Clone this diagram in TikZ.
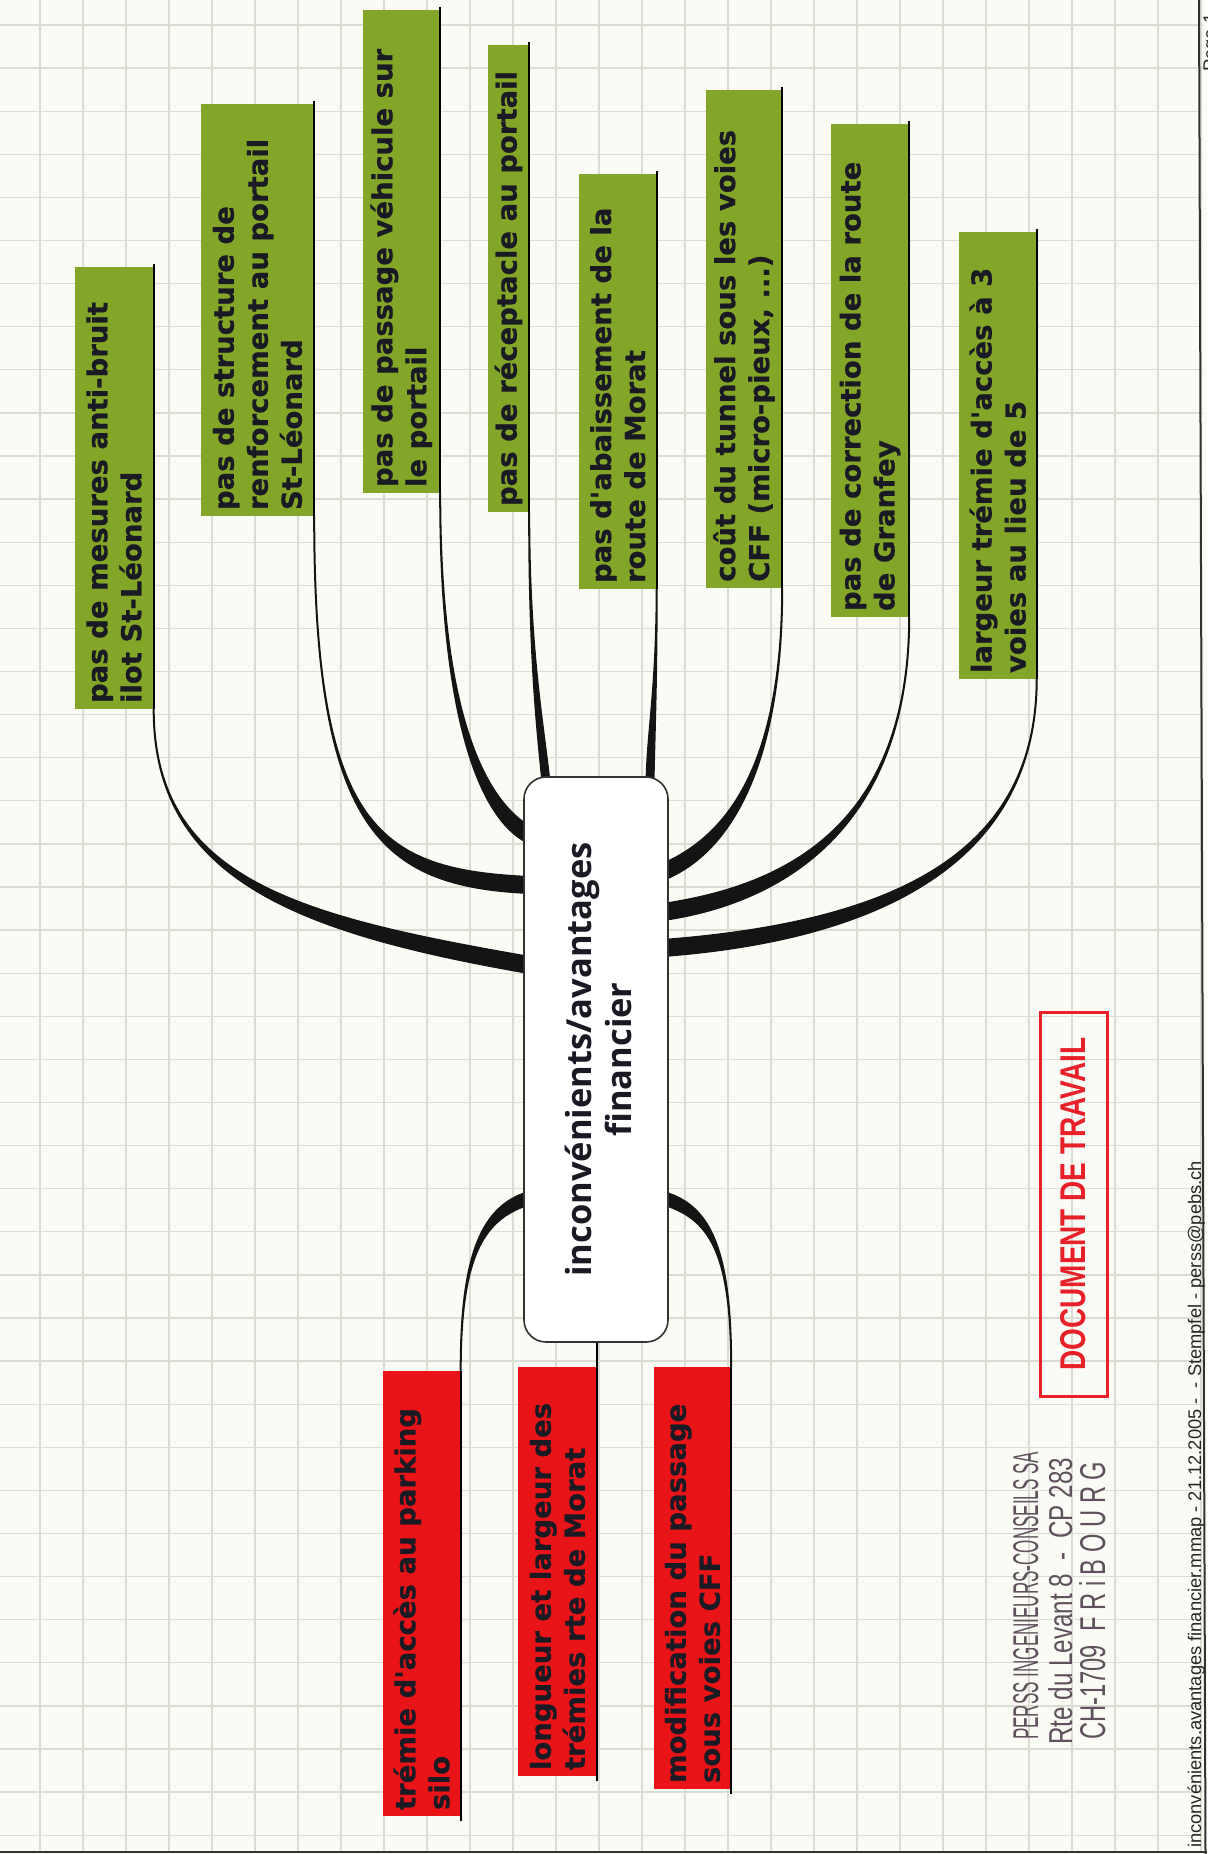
\documentclass[tikz,border=0pt]{standalone}
\usepackage{fontspec}
\setmainfont{Liberation Sans}
\newfontfamily\topicfam{DejaVu Sans}[BoldFeatures={FakeBold=0.6}]
\newfontfamily\hubfam{Open Sans}
\usetikzlibrary{calc}
\pgfdeclarelayer{grid}
\pgfdeclarelayer{links}
\pgfsetlayers{grid,links,main}

\definecolor{paper}{RGB}{251,251,246}
\definecolor{gridline}{RGB}{219,221,213}
\definecolor{leaf}{RGB}{132,166,40}
\definecolor{alert}{RGB}{232,20,24}
\definecolor{ink}{RGB}{26,26,36}
\definecolor{stamp}{RGB}{232,32,42}
\definecolor{addr}{RGB}{96,82,92}
\definecolor{frameline}{RGB}{50,50,50}

% text set bottom-to-top inside a topic box
\newcommand\vtext[2]{\rotatebox{90}{\parbox{#1}{\raggedright #2}}}

% tapered branch: start, control 1, control 2, end, half width at start, half width at end
\newcommand\drawtaper[6]{%
  \fill[connector]
    ($(#1)!#5!-90:(#2)$) .. controls ($(#2)!#5!90:(#1)$) and ($(#3)!#6!-90:(#4)$) .. ($(#4)!#6!90:(#3)$)
    -- ($(#4)!#6!-90:(#3)$) .. controls ($(#3)!#6!90:(#4)$) and ($(#2)!#5!-90:(#1)$) .. ($(#1)!#5!90:(#2)$)
    -- cycle;}

\begin{document}
\begin{tikzpicture}[x=1pt,y=1pt,
  topic/.style={inner sep=0pt, text=ink, font=\topicfam\bfseries\fontsize{27.5}{34}\selectfont},
  leafbox/.style={topic, fill=leaf},
  alertbox/.style={topic, fill=alert},
  hub/.style={draw=frameline, line width=1.6pt, fill=white, rounded corners=22pt,
    inner sep=0pt, text=ink, font=\hubfam\bfseries\fontsize{34.5}{40}\selectfont,
    minimum width=144pt, minimum height=565pt},
  underline/.style={draw=black, line width=2pt},
  connector/.style={fill=black!92},
  gridrule/.style={draw=gridline, line width=1.3pt},
  addrline/.style={inner sep=0pt, anchor=base west, rotate=90, text=addr},
  smallprint/.style={inner sep=0pt, anchor=base west, rotate=90, text=black!85,
    font=\fontsize{18.3}{20}\selectfont},
]
\useasboundingbox (0,0) rectangle (1207,-1854);

% squared paper
\begin{pgfonlayer}{grid}
  \fill[paper] (0,0) rectangle (1207,-1854);
  \foreach \k in {0,...,27} \draw[gridrule] ({40+43*\k},0) -- ({40+43*\k},-1852);
  \foreach \k in {0,...,42} \draw[gridrule] (0,{-25-43.1*\k}) -- (1203,{-25-43.1*\k});
\end{pgfonlayer}

% page frame
\draw[frameline, line width=2pt] (1199,0) -- (1205.5,-1854);
\draw[frameline, line width=2pt] (0,-1852) -- (1207,-1852);

% central topic
\node[hub] (hub) at (596,-1059.5)
  {\hspace*{14pt}\rotatebox{90}{\begin{tabular}{@{}c@{}}inconvénients/avantages\\financier\end{tabular}}};

% drawbacks (green)
\node[leafbox, minimum width=79pt, minimum height=442pt] (b1) at (114,-488)
  {\vtext{430pt}{pas de mesures anti-bruit\\ilot St-Léonard}};
\node[leafbox, minimum width=113pt, minimum height=412pt] (b2) at (257.5,-310)
  {\vtext{400pt}{pas de structure de\\renforcement au portail\\St-Léonard}};
\node[leafbox, minimum width=77.5pt, minimum height=483pt] (b3) at (401.25,-251.5)
  {\vtext{471pt}{pas de passage véhicule sur\\le portail}};
\node[leafbox, minimum width=41pt, minimum height=467pt] (b4) at (508.5,-278.5)
  {\vtext{455pt}{pas de réceptacle au portail}};
\node[leafbox, minimum width=77.5pt, minimum height=415pt] (b5) at (617.75,-381.5)
  {\vtext{403pt}{pas d'abaissement de la\\route de Morat}};
\node[leafbox, minimum width=76pt, minimum height=497.5pt] (b6) at (744,-339.25)
  {\vtext{485pt}{coût du tunnel sous les voies\\CFF (micro-pieux, ...)}};
\node[leafbox, minimum width=78pt, minimum height=493pt] (b7) at (870,-370.5)
  {\vtext{481pt}{pas de correction de la route\\de Granfey}};
\node[leafbox, minimum width=77.5pt, minimum height=447pt] (b8) at (997.75,-455.5)
  {\vtext{435pt}{largeur trémie d'accès à 3\\voies au lieu de 5}};

% red topics
\node[alertbox, minimum width=78pt, minimum height=445pt] (r1) at (421.5,-1593.5)
  {\vtext{433pt}{trémie d'accès au parking\\silo}};
\node[alertbox, minimum width=79pt, minimum height=409pt] (r2) at (557.5,-1571.5)
  {\vtext{397pt}{longueur et largeur des\\trémies rte de Morat}};
\node[alertbox, minimum width=77pt, minimum height=422pt] (r3) at (692.5,-1578)
  {\vtext{410pt}{modification du passage\\sous voies CFF}};

% branch geometry
\coordinate (e1) at ($(hub.west |- 0,-965)+(6,0)$);
\coordinate (e2) at ($(hub.west |- 0,-885)+(6,0)$);
\coordinate (e3) at ($(hub.west |- 0,-835)+(6,0)$);
\coordinate (e4) at ($(hub.north -| 546,0)+(0,-6)$);
\coordinate (e5) at ($(hub.north -| 650,0)+(0,-6)$);
\coordinate (e6) at ($(hub.east |- 0,-872)+(-6,0)$);
\coordinate (e7) at ($(hub.east |- 0,-912)+(-6,0)$);
\coordinate (e8) at ($(hub.east |- 0,-948)+(-6,0)$);
\coordinate (f1) at ($(hub.west |- 0,-1198)+(6,0)$);
\coordinate (f3) at ($(hub.east |- 0,-1198)+(-6,0)$);

\begin{pgfonlayer}{links}
  \drawtaper{b1.south east}{153.5,-880}{300,-925}{e1}{1pt}{9pt}
  \drawtaper{b2.south east}{314,-830}{380,-878}{e2}{1pt}{9pt}
  \drawtaper{b3.south east}{440,-710}{480,-808}{e3}{1pt}{8.5pt}
  \drawtaper{b4.south east}{529,-650}{540,-725}{e4}{1pt}{4.5pt}
  \drawtaper{b5.south east}{656.5,-690}{651,-730}{e5}{1pt}{4.5pt}
  \drawtaper{b6.south east}{782,-780}{720,-848}{e6}{1pt}{8.5pt}
  \drawtaper{b7.south east}{909,-830}{780,-895}{e7}{1pt}{9pt}
  \drawtaper{b8.south east}{1036.5,-850}{900,-930}{e8}{1pt}{9pt}
  \drawtaper{r1.north east}{460.5,-1250}{485,-1212}{f1}{1pt}{7pt}
  \drawtaper{r3.north east}{731,-1250}{710,-1212}{f3}{1pt}{7pt}
\end{pgfonlayer}

% topic underlines
\foreach \b in {b1,b2,b3,b4,b5,b6,b7,b8}
  \draw[underline] ([yshift=3pt]\b.north east) -- (\b.south east);
\foreach \r in {r1,r2,r3}
  \draw[underline] (\r.north east) -- ([yshift=-5pt]\r.south east);
\draw[underline] (hub.south -| r2.north east) -- (r2.north east);

% stamp
\node[draw=stamp, line width=3pt, minimum width=67pt, minimum height=384pt, inner sep=0pt,
  text=stamp, font=\bfseries] (stampbox) at (1073.5,-1204)
  {\rotatebox{90}{\resizebox{333pt}{25pt}{DOCUMENT DE TRAVAIL}}};

% firm address
\node[addrline] (firm) at (1038,-1740) {\resizebox{288pt}{25pt}{PERSS INGENIEURS-CONSEILS SA}};
\node[addrline] (street) at (1072,-1745) {\resizebox{287pt}{24pt}{Rte du Levant 8\ \ -\ \ CP 283}};
\node[addrline] (town) at (1105,-1740) {\resizebox{278pt}{26pt}{CH-1709\ \ F R i B O U R G}};

% footer
\node[smallprint] (foot) at (1201,-1848)
  {inconvénients.avantages financier.mmap - 21.12.2005 -\ \ - Stempfel - perss@pebs.ch};
\node[smallprint] (pagenum) at (1216,-72) {Page 1};
\end{tikzpicture}
\end{document}
